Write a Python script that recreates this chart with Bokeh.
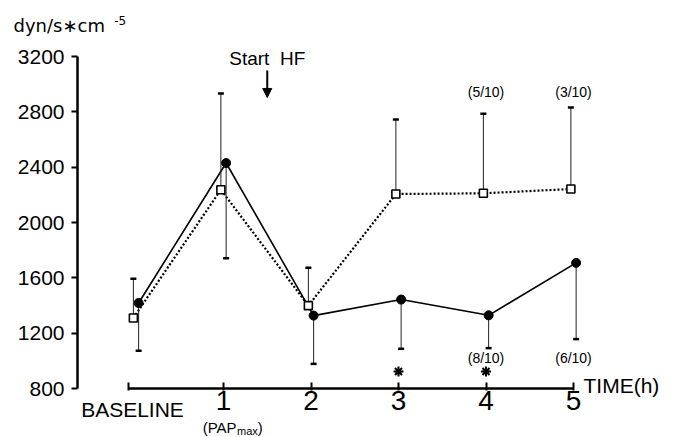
from bokeh.plotting import figure
from bokeh.models import (ColumnDataSource, FixedTicker, Label, Arrow, NormalHead,
                          Range1d, CustomJSTickFormatter)
from bokeh.transform import dodge
from bokeh.embed import file_html
from bokeh.resources import INLINE

# ---------------- data ----------------
time_labels = ["BASELINE", "1", "2", "3", "4", "5"]
time_h = [0, 1, 2, 3, 4, 5]
y_ticks = [800, 1200, 1600, 2000, 2400, 2800, 3200]

# open squares, dotted line (mean and +SD)
open_mean = [1310, 2237, 1399, 2206, 2211, 2242]
open_sd = [283, 696, 274, 539, 576, 590]
# filled circles, solid line (mean and -SD)
filled_mean = [1418, 2430, 1327, 1443, 1329, 1708]
filled_sd = [345, 688, 349, 356, 237, 551]

open_n_times = [4, 5]
open_n_text = ["(5/10)", "(3/10)"]
filled_n_times = [4, 5]
filled_n_text = ["(8/10)", "(6/10)"]
sig_times = [3, 4]
start_hf_time = 1.5

# ---------------- layout constants ----------------
PX_X = 87.5            # px per hour
PX_Y = 0.13833         # px per unit
X0 = 1 - 223 / PX_X
X1 = X0 + 676 / PX_X
Y0 = 800 - 49 / PX_Y
Y1 = 800 + 388 / PX_Y
Y_AXIS_X = 1 + (77 - 223) / PX_X

open_hi = [m + s for m, s in zip(open_mean, open_sd)]
filled_lo = [m - s for m, s in zip(filled_mean, filled_sd)]

src_o = ColumnDataSource(dict(t=time_h, m=open_mean, hi=open_hi))
src_f = ColumnDataSource(dict(t=time_h, m=filled_mean, lo=filled_lo))

p = figure(width=676, height=437, output_backend="svg", toolbar_location=None,
           x_range=Range1d(X0, X1), y_range=Range1d(Y0, Y1),
           min_border_left=0, min_border_right=0, min_border_top=0,
           min_border_bottom=0)
p.outline_line_color = None
p.xgrid.grid_line_color = None
p.ygrid.grid_line_color = None
p.background_fill_color = "white"
p.border_fill_color = "white"

# y axis
ya = p.yaxis[0]
ya.fixed_location = Y_AXIS_X
ya.ticker = FixedTicker(ticks=y_ticks)
ya.bounds = (800, 3200)
ya.axis_line_width = 2.5
ya.major_tick_line_width = 2
ya.major_tick_out = 6
ya.major_tick_in = 0
ya.minor_tick_line_color = None
ya.major_label_standoff = 7
ya.major_label_text_font = "Liberation Sans"
ya.major_label_text_font_size = "21px"
ya.major_label_text_color = "black"

# x axis
xa = p.xaxis[0]
xa.fixed_location = 800
base_tick = -0.09
xa.ticker = FixedTicker(ticks=[base_tick, 1, 2, 3, 4, 5])
xa.bounds = (base_tick, 5)
xa.formatter = CustomJSTickFormatter(code="return tick < 0.5 ? '' : String(Math.round(tick));")
xa.axis_line_width = 2.5
xa.major_tick_line_width = 2
xa.major_tick_in = 6
xa.major_tick_out = 2
xa.minor_tick_line_color = None
xa.major_label_standoff = 0
xa.major_label_text_font = "Liberation Sans"
xa.major_label_text_font_size = "28px"
xa.major_label_text_color = "black"

# lines
p.line(x=dodge("t", 0.03), y="m", source=src_f, line_width=1.6, line_color="black")
p.line(x=dodge("t", -0.03), y="m", source=src_o, line_width=2.2, line_color="black",
       line_dash="2 2")

# error bars
p.segment(x0=dodge("t", -0.03), y0="m", x1=dodge("t", -0.03), y1="hi", source=src_o,
          line_width=1, line_color="#222222")
p.scatter(x=dodge("t", -0.03), y="hi", source=src_o, marker="dash", size=6,
          line_width=2.5, line_color="black")
p.segment(x0=dodge("t", 0.03), y0="m", x1=dodge("t", 0.03), y1="lo", source=src_f,
          line_width=1, line_color="#222222")
p.scatter(x=dodge("t", 0.03), y="lo", source=src_f, marker="dash", size=6,
          line_width=2.5, line_color="black")

# markers
p.scatter(x=dodge("t", -0.03), y="m", source=src_o, marker="square", size=8,
          fill_color="white", line_color="black", line_width=1.6)
p.scatter(x=dodge("t", 0.03), y="m", source=src_f, marker="circle", size=9,
          fill_color="black", line_color="black")

# significance asterisks
sig_y = 923
p.scatter(x=sig_times, y=[sig_y] * len(sig_times), marker="asterisk", size=10,
          line_width=2, line_color="black")

# start HF arrow
p.add_layout(Arrow(end=NormalHead(size=9, fill_color="black", line_color="black"),
                   x_start=start_hf_time, y_start=3099, x_end=start_hf_time, y_end=2904,
                   line_width=2, line_color="black"))


def lab(text, x, y, size, align="center", baseline="middle", font="Liberation Sans"):
    p.add_layout(Label(x=x, y=y, text=text, text_align=align, text_baseline=baseline,
                       text_font=font, text_font_size=size, text_color="black"))


lab("Start \u00a0HF", start_hf_time, 3186, "19px")
for t, s in zip(open_n_times, open_n_text):
    lab(s, t, 2940, "14px")
for t, s in zip(filled_n_times, filled_n_text):
    lab(s, t, 1024, "14px")

lab("TIME(h)", 5.114, 822, "21px", align="left")
lab(time_labels[0], -0.04, 645, "21px")
lab("(PAP", 1.149, 518, "15px", align="right", baseline="alphabetic")
lab("max", 1.155, 496, "11px", align="left", baseline="alphabetic")
lab(")", 1.39, 518, "15px", align="left", baseline="alphabetic")

lab("dyn/s\u2217cm", -1.4, 3424, "18px", align="left", baseline="alphabetic",
    font="DejaVu Sans")
lab("-5", -0.25, 3460, "12px", align="left", baseline="alphabetic", font="DejaVu Sans")

open("out.html", "w").write(file_html(p, INLINE))
